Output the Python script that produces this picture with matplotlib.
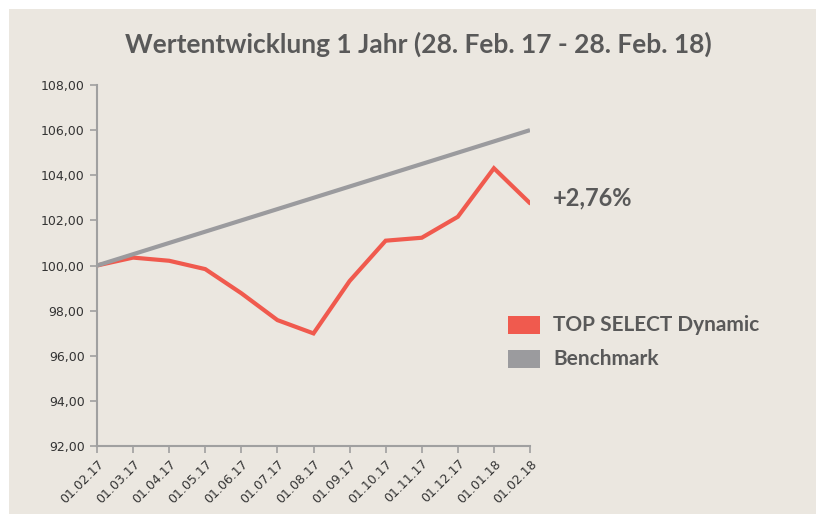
import matplotlib.pyplot as plt
from matplotlib.patches import Rectangle

dates = ["01.02.17", "01.03.17", "01.04.17", "01.05.17", "01.06.17", "01.07.17", "01.08.17",
         "01.09.17", "01.10.17", "01.11.17", "01.12.17", "01.01.18", "01.02.18"]
fund = [100.0, 100.35, 100.21, 99.84, 98.77, 97.58, 96.99, 99.31, 101.1, 101.23, 102.16, 104.31, 102.76]
benchmark = [100.0, 100.5, 101.0, 101.5, 102.0, 102.5, 103.0, 103.5, 104.0, 104.5, 105.0, 105.5, 106.0]
yticks = [92, 94, 96, 98, 100, 102, 104, 106, 108]

BG = "#ebe7e0"
RED = "#f05a4e"
GREY = "#9b9b9e"
TEXT = "#595959"
AXIS = "#a0a0a0"

fig = plt.figure(figsize=(8.16, 5.14), dpi=100)
fig.patch.set_facecolor("white")
fig.patches.append(Rectangle((9 / 816, 0), 1, 1 - 9 / 514, transform=fig.transFigure,
                             facecolor=BG, edgecolor="none", zorder=-10))

ax = fig.add_axes([97 / 816, 1 - 446 / 514, (530 - 97) / 816, (446 - 85) / 514])
ax.patch.set_alpha(0)

x = list(range(len(dates)))
ax.plot(x, fund, color=RED, lw=3.0, solid_joinstyle="miter", solid_capstyle="round", zorder=3)
ax.plot(x, benchmark, color=GREY, lw=3.0, solid_capstyle="butt", zorder=4)

ax.set_xlim(0, len(dates) - 1)
ax.set_ylim(92, 108)
ax.set_yticks(yticks)
ax.set_yticklabels([f"{v:.2f}".replace(".", ",") for v in yticks])
ax.set_xticks(x)
ax.set_xticklabels(dates, rotation=45, ha="right", rotation_mode="anchor")

for side in ["top", "right"]:
    ax.spines[side].set_visible(False)
for side in ["left", "bottom"]:
    ax.spines[side].set_color(AXIS)
    ax.spines[side].set_linewidth(1.5)
    ax.spines[side].set_zorder(5)
ax.tick_params(axis="both", colors=AXIS, length=5, width=1.2, labelcolor="#333333",
               labelsize=9)
ax.tick_params(axis="y", pad=4)
ax.tick_params(axis="x", pad=3)
for lab in ax.get_xticklabels() + ax.get_yticklabels():
    lab.set_family("DejaVu Sans")

fig.text(418 / 816, 1 - 44 / 514, "Wertentwicklung 1 Jahr (28. Feb. 17 - 28. Feb. 18)",
         ha="center", va="center", fontsize=19, fontweight="bold", color=TEXT, family="Lato")

fig.text(553 / 816, 1 - 198 / 514, "+2,76%", ha="left", va="center", fontsize=17,
         fontweight="bold", color=TEXT, family="Lato")

legend_items = [("TOP SELECT Dynamic", RED, 325), ("Benchmark", GREY, 359)]
for label, color, yc in legend_items:
    fig.patches.append(Rectangle((508 / 816, 1 - (yc + 9) / 514), 32 / 816, 18 / 514,
                                 transform=fig.transFigure, facecolor=color,
                                 edgecolor="none", zorder=2))
    fig.text(553 / 816, 1 - yc / 514, label, ha="left", va="center", fontsize=15,
             fontweight="bold", color=TEXT, family="Lato")

fig.savefig("out.png", dpi=100, facecolor=fig.get_facecolor())
